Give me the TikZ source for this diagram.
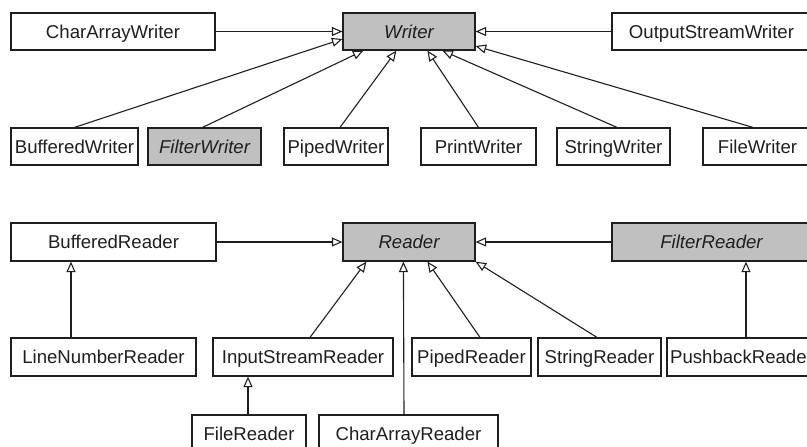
\documentclass[tikz,border=0pt]{standalone}
\usepackage{fontspec}
\setmainfont{Liberation Sans}
\usetikzlibrary{arrows.meta}
\definecolor{ink}{HTML}{1F1F1F}
\definecolor{abstractfill}{HTML}{C0C0C0}
\tikzset{
  cls/.style={draw=ink, line width=1.2pt, fill=white, inner sep=0pt,
    text=ink, text height=13.2pt, text depth=0pt,
    font=\fontsize{18.6}{22}\selectfont},
  abstractcls/.style={cls, fill=abstractfill, font=\fontsize{18.6}{22}\selectfont\itshape},
  inh/.style={draw=ink, line width=1.1pt,
    -{Triangle[open, length=10.5pt, width=9pt, fill=white]}},
}
\begin{document}
\begin{tikzpicture}[x=1pt, y=-1pt]
\useasboundingbox (0,0) rectangle (807,447);

% ---- Writer hierarchy ----
\node[cls, minimum width=204pt, minimum height=37pt] (caw) at (113,31.5) {CharArrayWriter};
\node[abstractcls, minimum width=132pt, minimum height=37pt] (writer) at (409,31.5) {Writer};
\node[cls, minimum width=199pt, minimum height=37pt] (osw) at (711.5,31.5) {OutputStreamWriter};

\node[cls, minimum width=127pt, minimum height=37pt] (bw) at (74.5,146.5) {BufferedWriter};
\node[abstractcls, minimum width=113pt, minimum height=37pt] (fw) at (204.5,146.5) {FilterWriter};
\node[cls, minimum width=104pt, minimum height=37pt] (pw) at (336,146.5) {PipedWriter};
\node[cls, minimum width=115pt, minimum height=37pt] (prw) at (478.5,146.5) {PrintWriter};
\node[cls, minimum width=113pt, minimum height=37pt] (sw) at (613.5,146.5) {StringWriter};
\node[cls, minimum width=109pt, minimum height=37pt] (filew) at (757.5,146.5) {FileWriter};

\draw[inh] (caw.east) -- (writer.west);
\draw[inh] (osw.west) -- (writer.east);
\draw[inh] (bw.north) -- ([yshift=-7.5pt]writer.west);
\draw[inh] ([xshift=-2pt]fw.north) -- ([xshift=21pt]writer.south west);
\draw[inh] ([xshift=4pt]pw.north) -- ([xshift=54pt]writer.south west);
\draw[inh] (prw.north) -- ([xshift=85pt]writer.south west);
\draw[inh] ([xshift=3.5pt]sw.north) -- ([xshift=100pt]writer.south west);
\draw[inh] ([xshift=-4.5pt]filew.north) -- ([yshift=-14.5pt]writer.east);

% ---- Reader hierarchy ----
\node[cls, minimum width=205pt, minimum height=38pt] (br) at (113.5,242) {BufferedReader};
\node[abstractcls, minimum width=132pt, minimum height=38pt] (reader) at (409,242) {Reader};
\node[abstractcls, minimum width=199pt, minimum height=38pt] (fr) at (711.5,242) {FilterReader};

\node[cls, minimum width=185pt, minimum height=38pt] (lnr) at (103.5,357) {LineNumberReader};
\node[cls, minimum width=180pt, minimum height=38pt] (isr) at (303,357) {InputStreamReader};
\node[cls, minimum width=119pt, minimum height=38pt] (pr) at (471.5,357) {PipedReader};
\node[cls, minimum width=123pt, minimum height=38pt] (sr) at (599.5,357) {StringReader};
\node[cls, minimum width=149pt, minimum height=38pt] (pbr) at (741.5,357) {PushbackReader};

\node[cls, minimum width=114pt, minimum height=38pt] (filer) at (249,434) {FileReader};
\node[cls, minimum width=179pt, minimum height=38pt] (car) at (408.5,434) {CharArrayReader};

\draw[inh] (br.east) -- (reader.west);
\draw[inh] (fr.west) -- (reader.east);
\draw[inh] ([xshift=-32.5pt]lnr.north) -- ([xshift=-42.5pt]br.south);
\draw[inh] ([xshift=7pt]isr.north) -- ([xshift=24pt]reader.south west);
\draw[inh] ([xshift=-4.5pt]car.north) -- ([xshift=61pt]reader.south west);
\draw[inh] ([xshift=8.5pt]pr.north) -- ([xshift=85pt]reader.south west);
\draw[inh] ([xshift=-2.5pt]sr.north) -- (reader.south east);
\draw[inh] ([xshift=4.5pt]pbr.north) -- ([xshift=34.5pt]fr.south);
\draw[inh] ([xshift=-1pt]filer.north) -- ([xshift=-55pt]isr.south);
\end{tikzpicture}
\end{document}
